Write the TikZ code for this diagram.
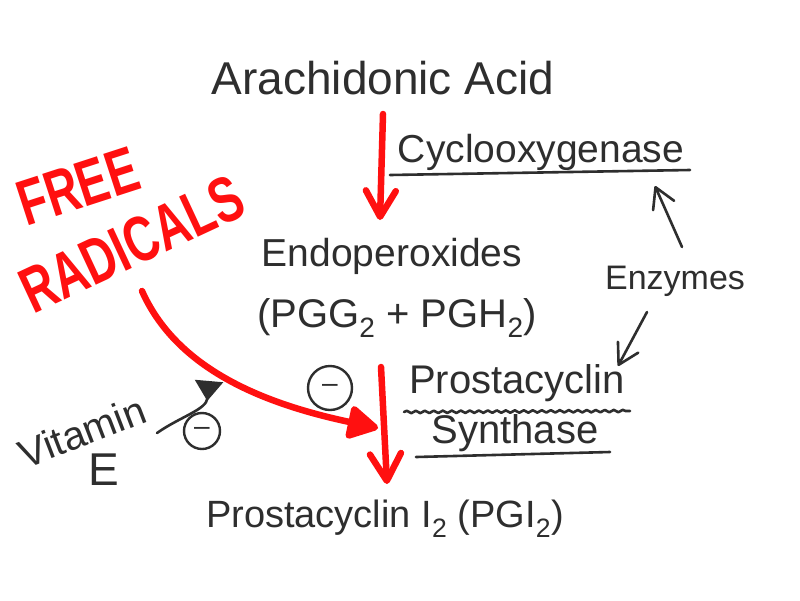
\documentclass[tikz,border=0pt]{standalone}
\usepackage{fontspec}
\setmainfont{Liberation Sans}
\usetikzlibrary{arrows.meta,decorations.pathmorphing}
\definecolor{ink}{HTML}{2E2E2E}
\definecolor{redink}{HTML}{FF1010}
\tikzset{
  txt/.style={text=ink, inner sep=0pt, anchor=center},
  redtxt/.style={text=redink, inner sep=0pt, anchor=center, font=\bfseries\fontsize{46}{50}\selectfont},
  pen/.style={draw=ink, line width=2.6pt, line cap=round, line join=round},
  redpen/.style={draw=redink, line width=6.5pt, line cap=round, line join=round},
  openhead/.style={-{Straight Barb[length=#1, width=1.15*#1, line cap=round, line join=round]}},
  inhib/.style={circle, draw=ink, line width=2.4pt, text=ink, inner sep=0pt, minimum size=#1, font=\fontsize{28}{28}\selectfont},
}
\begin{document}
\begin{tikzpicture}[x=1pt,y=-1pt]
\useasboundingbox (0,0) rectangle (800,600);
\fill[white] (0,0) rectangle (800,600);

% texts
\node[txt, font=\fontsize{46}{50}\selectfont] (aa) at (383,78) {Arachidonic Acid};
\node[txt, font=\fontsize{39}{44}\selectfont] (cox) at (541,152) {Cyclooxygenase};
\node[txt, font=\fontsize{39}{44}\selectfont] (endo) at (392,256) {Endoperoxides};
\node[txt, font=\fontsize{40}{44}\selectfont] (pgg) at (397,318) {(PGG\textsubscript{2} + PGH\textsubscript{2})};
\node[txt, font=\fontsize{34}{40}\selectfont] (enz) at (675,281) {Enzymes};
\node[txt, font=\fontsize{40}{44}\selectfont] (psyn1) at (517,383) {Prostacyclin};
\node[txt, font=\fontsize{40}{44}\selectfont] (psyn2) at (515,433) {Synthase};
\node[txt, font=\fontsize{38}{44}\selectfont] (pgi) at (385,519) {Prostacyclin I\textsubscript{2} (PGI\textsubscript{2})};
\node[redtxt, rotate=18] (free) at (78,186) {\scalebox{1}[1.4]{FREE}};
\node[redtxt, rotate=25] (rad) at (132,244) {\scalebox{1}[1.4]{RADICALS}};
\node[txt, rotate=21, font=\fontsize{40}{44}\selectfont] (vit) at (82,432) {Vitamin};
\node[txt, font=\fontsize{46}{50}\selectfont] (vite) at (104,470) {E};

% inhibition circles
\node[inhib=44pt] (m1) at (330,388) {–};
\node[inhib=36pt] (m2) at (202,431) {–};

% coordinates for connector ends
\coordinate (a1s) at (383,114);
\coordinate (a1e) at (380,220);
\coordinate (a2s) at (381,367);
\coordinate (a2e) at (387,484);
\coordinate (frs) at (142,291);
\coordinate (fre) at (378,428);
\coordinate (e1s) at (682,247);
\coordinate (e1e) at (655,186);
\coordinate (e2s) at (647,312);
\coordinate (e2e) at (618,366);
\coordinate (vs) at (157,433);
\coordinate (ve) at (209,381);
\coordinate (u1a) at (390,175);
\coordinate (u1b) at (690,170);
\coordinate (u2a) at (404,412);
\coordinate (u2b) at (630,411);
\coordinate (u3a) at (416,457);
\coordinate (u3b) at (610,452);

% underlines
\draw[pen] (u1a) -- (u1b);
\draw[pen, decorate, decoration={snake, amplitude=1.2pt, segment length=9pt}] (u2a) -- (u2b);
\draw[pen] (u3a) -- (u3b);

% red arrows
\draw[redpen, openhead=26pt] (a1s) -- (a1e);
\draw[redpen, openhead=27pt] (a2s) -- (a2e);
\draw[redpen, -{Triangle[round, length=34pt, width=36pt]}] (frs) .. controls (175,365) and (255,402) .. (fre);

% enzyme arrows
\draw[pen, openhead=20pt] (e1s) -- (e1e);
\draw[pen, openhead=20pt] (e2s) -- (e2e);

% vitamin E arrow
\draw[pen, -{Triangle[reversed, length=20pt, width=28pt]}] (vs) to[out=35, in=-95] (ve);
\end{tikzpicture}
\end{document}
